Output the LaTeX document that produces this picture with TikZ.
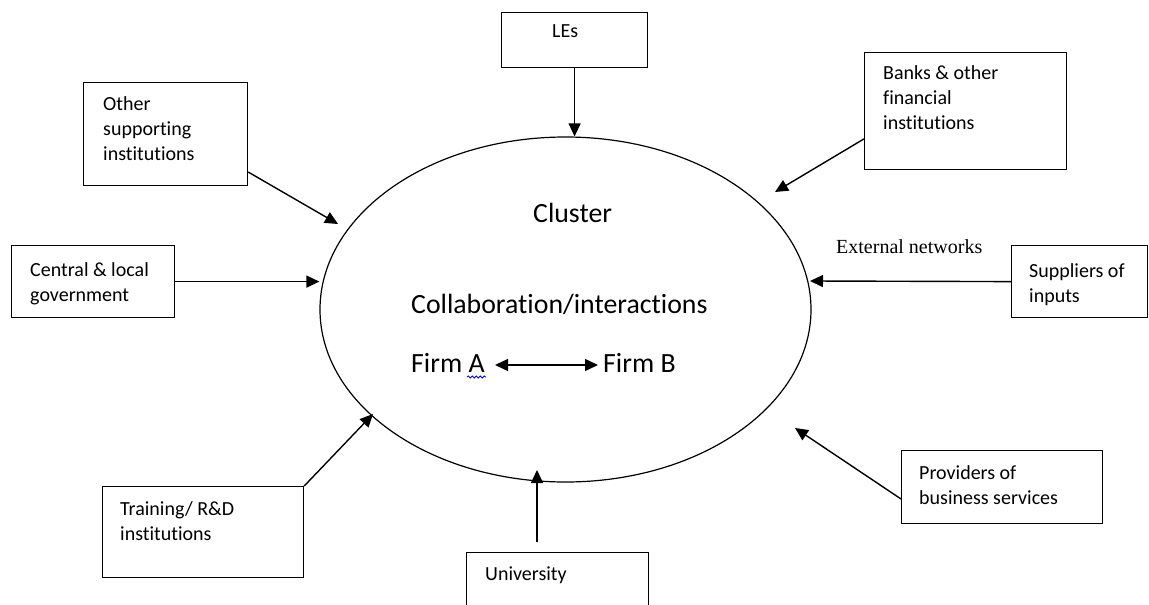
\documentclass[tikz,border=0pt]{standalone}
\usepackage{fontspec}
\setmainfont{Carlito}[Ligatures=NoCommon]
\newfontfamily\serifext{Liberation Serif}
\usetikzlibrary{arrows.meta,shapes.geometric,calc,decorations.pathmorphing}
\begin{document}
\begin{tikzpicture}[x=1pt,y=-1pt,
  box/.style={draw,line width=1.2pt,anchor=north west,inner sep=0pt},
  lbl/.style={anchor=base west,inner sep=0pt,align=left,font=\fontsize{20}{25}\selectfont},
  big/.style={anchor=base west,inner sep=0pt,font=\fontsize{27.8}{32}\selectfont},
  arr/.style={-{Triangle[length=13pt,width=12pt]},line width=1.4pt},
  darr/.style={{Triangle[length=13pt,width=12pt]}-{Triangle[length=13pt,width=12pt]},line width=1.4pt}]
\useasboundingbox (0,0) rectangle (1149,605);

% cluster ellipse
\node[draw,ellipse,line width=1.2pt,minimum width=491pt,minimum height=345pt,inner sep=0pt] (cl) at (565.5,309.5) {};

% boxes
\node[box,minimum width=146pt,minimum height=55pt] (les) at (501,12) {};
\node[box,minimum width=164pt,minimum height=103pt] (oth) at (83,82) {};
\node[box,minimum width=163pt,minimum height=72pt] (cen) at (11,245) {};
\node[box,minimum width=201pt,minimum height=91pt] (tra) at (102,486) {};
\node[box,minimum width=182pt,minimum height=70pt] (uni) at (466,552) {};
\node[box,minimum width=201pt,minimum height=73pt] (pro) at (901,450) {};
\node[box,minimum width=136pt,minimum height=72pt] (sup) at (1011,245) {};
\node[box,minimum width=202pt,minimum height=117pt] (ban) at (864,52) {};

% box texts (anchored at the baseline of the last line)
\node[lbl] (tles) at (552,37) {LEs};
\node[lbl] (toth) at (103,160) {Other\\supporting\\institutions};
\node[lbl] (tcen) at (30,301) {Central \& local\\government};
\node[lbl] (ttra) at (120,540) {Training/ R\&D\\institutions};
\node[lbl] (tuni) at (485,580) {University};
\node[lbl] (tpro) at (919,504) {Providers of\\business services};
\node[lbl] (tsup) at (1029,302) {Suppliers of\\inputs};
\node[lbl] (tban) at (883,129) {Banks \& other\\financial\\institutions};

% texts in the cluster
\node[anchor=base west,inner sep=0pt,font=\serifext\fontsize{20}{24}\selectfont] (ext) at (836,253) {External networks};
\node[big] (tcl) at (533,222) {Cluster};
\node[big] (tcol) at (411,313) {Collaboration/interactions};
\node[big] (fa) at (411,372) {Firm A};
\node[big] (fb) at (603,372) {Firm B};
\draw[blue,line width=0.8pt,decorate,decoration={snake,amplitude=1pt,segment length=4pt}] (467,377) -- (486,377);
\coordinate (fa1) at (495,365);
\coordinate (fb1) at (598,365);
\draw[darr] (fa1) -- (fb1);

% arrow tips (free ends)
\coordinate (pOth) at (338,224);
\coordinate (pTra) at (373,414);
\coordinate (pUni) at (537,470);
\coordinate (pPro) at (795,428);
\coordinate (pSup) at (810,281);
\coordinate (pBan) at (775,192);
\coordinate (sUni) at (537,542);

% connectors
\draw[arr] (les.south) -- (les.south |- cl.north);
\draw[arr] ($(oth.north east)!0.864!(oth.south east)$) -- (pOth);
\draw[arr] (cen.east) -- (cen.east -| cl.west);
\draw[arr] (tra.north east) -- (pTra);
\draw[arr] (sUni) -- (pUni);
\draw[arr] ($(pro.north west)!0.66!(pro.south west)$) -- (pPro);
\draw[arr] (sup.west) -- (pSup);
\draw[arr] ($(ban.north west)!0.735!(ban.south west)$) -- (pBan);
\end{tikzpicture}
\end{document}
